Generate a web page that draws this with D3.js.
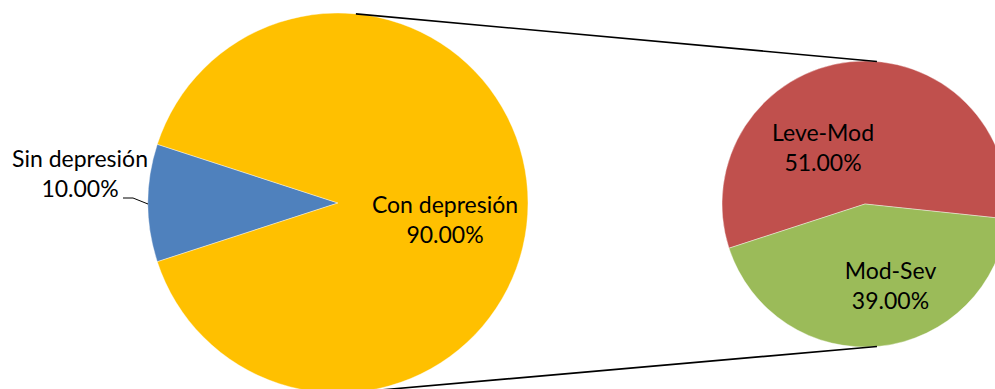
<!DOCTYPE html>
<html>
<head>
<meta charset="utf-8">
<script src="https://cdn.jsdelivr.net/npm/d3@7"></script>
<style>
  html, body { margin: 0; padding: 0; background: #fff; }
  svg text { font-family: Lato, "Open Sans", sans-serif; fill: #000; }
</style>
</head>
<body>
<svg id="chart" width="995" height="389"></svg>
<script>
// Main pie: with / without depression
const mainCategories = ["Sin depresión", "Con depresión"];
const mainValues = [10, 90];
const mainColors = ["#4F81BD", "#FFC000"];

// Secondary pie: breakdown of "Con depresión"
const subCategories = ["Leve-Mod", "Mod-Sev"];
const subValues = [51, 39];
const subColors = ["#C0504D", "#9BBB59"];

const fmt = v => d3.format(".2f")(v) + "%";
const deg = a => a * Math.PI / 180;

const svg = d3.select("#chart");

// geometry
const main = { cx: 338, cy: 203, r: 190, start: 252 };
const sub = { cx: 865, cy: 204, r: 143, start: 252 };

function drawPie(cfg, cats, vals, colors) {
  const pie = d3.pie().sort(null).value(d => d.v)
    .startAngle(deg(cfg.start)).endAngle(deg(cfg.start + 360));
  const arcs = pie(cats.map((c, i) => ({ c, v: vals[i], color: colors[i] })));
  const arc = d3.arc().innerRadius(0).outerRadius(cfg.r);
  const g = svg.append("g").attr("transform", `translate(${cfg.cx},${cfg.cy})`);
  g.selectAll("path").data(arcs).join("path")
    .attr("d", arc)
    .attr("fill", d => d.data.color)
    .attr("stroke", "#fff")
    .attr("stroke-width", 0.4);
  return { g, arcs };
}

const m = drawPie(main, mainCategories, mainValues, mainColors);
const s = drawPie(sub, subCategories, subValues, subColors);

// connector lines between the two pies
const conn = [{ a1: 5.4, a2: 4.8 }, { a1: 174.6, a2: 175.2 }];
conn.forEach(c => {
  const p1 = d3.pointRadial(deg(c.a1), main.r);
  const p2 = d3.pointRadial(deg(c.a2), sub.r);
  svg.append("line")
    .attr("x1", main.cx + p1[0]).attr("y1", main.cy + p1[1])
    .attr("x2", sub.cx + p2[0]).attr("y2", sub.cy + p2[1])
    .attr("stroke", "#000").attr("stroke-width", 1.6);
});

const fontSize = 23;
const lineGap = 30;

function twoLineLabel(x, y, l1, l2) {
  const t = svg.append("text")
    .attr("text-anchor", "middle")
    .attr("font-size", fontSize);
  t.append("tspan").attr("x", x).attr("y", y).text(l1);
  t.append("tspan").attr("x", x).attr("y", y + lineGap).text(l2);
}

// inside labels: centroid at half radius, then nudged
const nudges = {
  "Con depresión": [12, 10],
  "Leve-Mod": [-34.5, 8],
  "Mod-Sev": [18, 4]
};

function insideLabels(cfg, arcs) {
  const labelArc = d3.arc().innerRadius(cfg.r / 2).outerRadius(cfg.r / 2);
  arcs.forEach(d => {
    const n = nudges[d.data.c];
    if (!n) return;
    const [x, y] = labelArc.centroid(d);
    twoLineLabel(cfg.cx + x + n[0], cfg.cy + y + n[1], d.data.c, fmt(d.data.v));
  });
}
insideLabels(main, m.arcs);
insideLabels(sub, s.arcs);

// outside label with leader line for the small slice
const blue = m.arcs[0];
const mid = (blue.startAngle + blue.endAngle) / 2;
const edge = d3.pointRadial(mid, main.r);
const ex = main.cx + edge[0], ey = main.cy + edge[1] + 1;
svg.append("polyline")
  .attr("points", [[ex, ey], [ex - 15, ey - 6], [ex - 25, ey - 6]].map(p => p.join(",")).join(" "))
  .attr("fill", "none").attr("stroke", "#000").attr("stroke-width", 1);
twoLineLabel(ex - 68, ey - 37, blue.data.c, fmt(blue.data.v));
</script>
</body>
</html>
